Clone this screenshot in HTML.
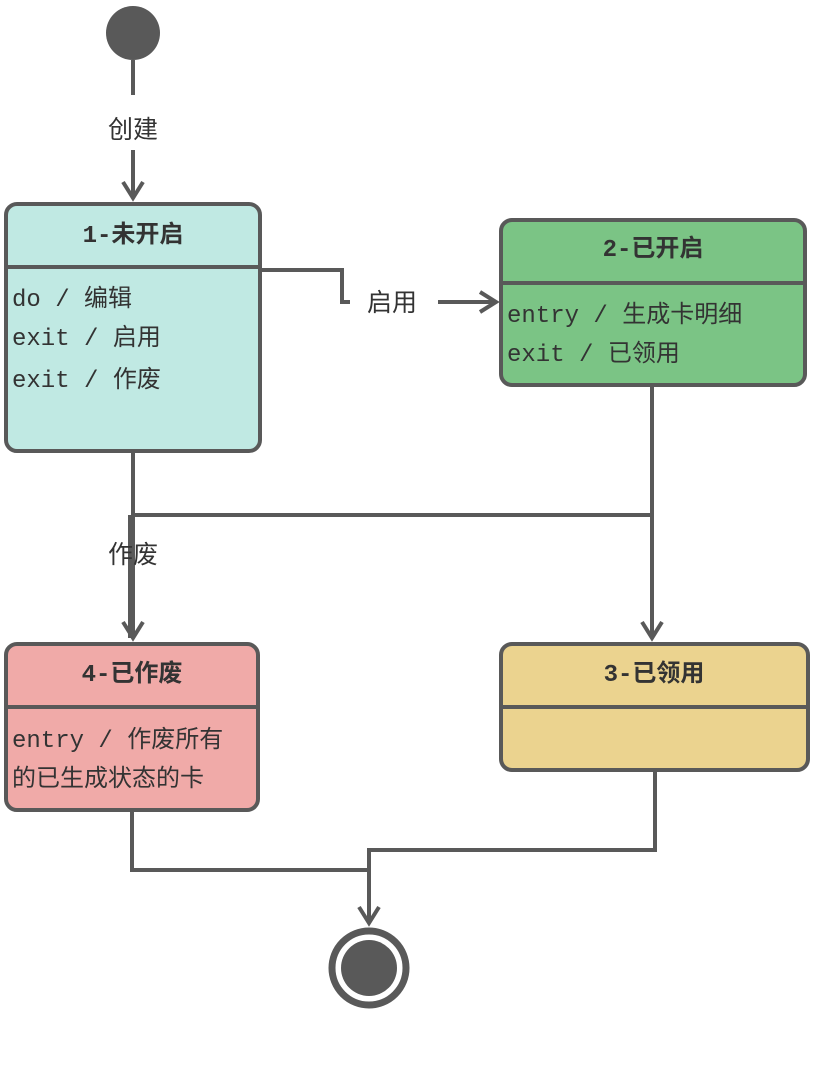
<!DOCTYPE html>
<html><head><meta charset="utf-8"><style>
body{margin:0;background:#fff;width:813px;height:1080px;overflow:hidden}
text{font-family:"Liberation Mono","Noto Sans CJK SC",monospace;font-size:24px;fill:#333}
.t{font-weight:bold;text-anchor:middle}
.l{font-family:"Liberation Sans","Noto Sans CJK SC",sans-serif;fill:#333;font-size:25px}
</style></head><body>
<svg width="813" height="1080" viewBox="0 0 813 1080">
<g stroke="#595959" stroke-width="4" fill="none">
<line x1="133" y1="60" x2="133" y2="95"/>
<line x1="133" y1="150" x2="133" y2="198"/>
<polyline points="123,182 133,198 143,182"/>
<polyline points="260,270 342,270 342,302 350,302"/>
<line x1="438" y1="302" x2="496" y2="302"/>
<polyline points="480,292 496,302 480,312"/>
<line x1="133" y1="451" x2="133" y2="638"/>
<line x1="130" y1="515" x2="130" y2="638"/>
<polyline points="123,622 133,638 143,622"/>
<line x1="133" y1="515" x2="652" y2="515"/>
<line x1="652" y1="385" x2="652" y2="638"/>
<polyline points="642,622 652,638 662,622"/>
<polyline points="132,810 132,870 369,870"/>
<polyline points="655,770 655,850 369,850 369,923"/>
<polyline points="359,907 369,923 379,907"/>
</g>
<circle cx="133" cy="33" r="27" fill="#595959"/>
<text class="l" x="133" y="138" text-anchor="middle">创建</text>
<text class="l" x="367" y="311">启用</text>
<text class="l" x="133" y="563" text-anchor="middle">作废</text>

<rect x="6" y="204" width="254" height="247" rx="11" fill="#c0e9e3" stroke="#595959" stroke-width="4"/>
<line x1="6" y1="267" x2="260" y2="267" stroke="#595959" stroke-width="4"/>
<text class="t" x="133" y="242">1-未开启</text>
<text x="12" y="306">do / 编辑</text>
<text x="12" y="345">exit / 启用</text>
<text x="12" y="387">exit / 作废</text>

<rect x="501" y="220" width="304" height="165" rx="11" fill="#7bc485" stroke="#595959" stroke-width="4"/>
<line x1="501" y1="283" x2="805" y2="283" stroke="#595959" stroke-width="4"/>
<text class="t" x="653" y="256">2-已开启</text>
<text x="507" y="322">entry / 生成卡明细</text>
<text x="507" y="361">exit / 已领用</text>

<rect x="6" y="644" width="252" height="166" rx="11" fill="#f0aaa8" stroke="#595959" stroke-width="4"/>
<line x1="6" y1="707" x2="258" y2="707" stroke="#595959" stroke-width="4"/>
<text class="t" x="132" y="681">4-已作废</text>
<text x="12" y="747">entry / 作废所有</text>
<text x="12" y="786">的已生成状态的卡</text>

<rect x="501" y="644" width="307" height="126" rx="11" fill="#ebd38f" stroke="#595959" stroke-width="4"/>
<line x1="501" y1="707" x2="808" y2="707" stroke="#595959" stroke-width="4"/>
<text class="t" x="654" y="681">3-已领用</text>

<circle cx="369" cy="968" r="37" fill="none" stroke="#595959" stroke-width="7"/>
<circle cx="369" cy="968" r="28" fill="#595959"/>
</svg>
</body></html>
